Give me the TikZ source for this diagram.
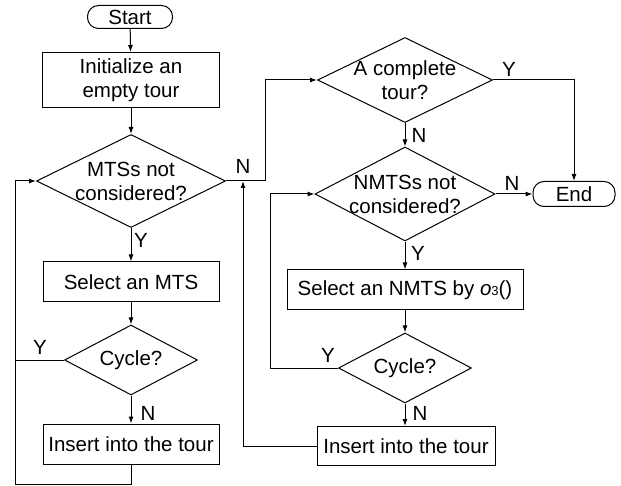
\documentclass[tikz,border=0pt]{standalone}
\usepackage{fontspec}
\setmainfont{Liberation Sans}
\usetikzlibrary{shapes.geometric,arrows.meta}
\begin{document}
\begin{tikzpicture}[x=1pt,y=-1pt,line width=1pt,
    font=\fontsize{20.5}{24}\selectfont,
    box/.style={draw,rectangle,inner sep=0pt,align=center},
    term/.style={draw,rectangle,rounded corners=11pt,inner sep=0pt},
    dia/.style={draw,diamond,inner sep=0pt},
    arr/.style={-{Latex[length=7pt,width=5pt]}},
    lbl/.style={inner sep=0pt}]
  \useasboundingbox (0,0) rectangle (621,486);
  % left column
  \node[term,minimum width=85pt,minimum height=23pt] (start) at (130,17) {Start};
  \node[box,minimum width=177pt,minimum height=55pt] (init) at (131,80) {Initialize an\\empty tour};
  \node[dia,minimum width=189pt,minimum height=93pt,
    label={[align=center]center:MTSs not\\considered?}] (mts) at (131,181) {};
  \node[box,minimum width=176pt,minimum height=40pt] (selm) at (131,282) {Select an MTS};
  \node[dia,minimum width=133pt,minimum height=70pt,
    label=center:Cycle?] (cyc1) at (131,360) {};
  \node[box,minimum width=176pt,minimum height=40pt] (ins1) at (131,444) {Insert into the tour};
  % right column
  \node[dia,minimum width=175pt,minimum height=85pt,
    label={[align=center]center:A complete\\tour?}] (comp) at (405,80) {};
  \node[dia,minimum width=180pt,minimum height=94pt,
    label={[align=center]center:NMTSs not\\considered?}] (nmts) at (405,194) {};
  \node[term,minimum width=82pt,minimum height=25pt] (end) at (574,194) {End};
  \node[box,minimum width=236pt,minimum height=40pt] (seln) at (405,290)
    {Select an NMTS by \textit{o}{\fontsize{13}{13}\selectfont 3}()};
  \node[dia,minimum width=133pt,minimum height=70pt,
    label=center:Cycle?] (cyc2) at (405,368) {};
  \node[box,minimum width=178pt,minimum height=39pt] (ins2) at (406,446) {Insert into the tour};
  % bends
  \coordinate (lp) at (15,484);
  \coordinate (mj) at (243,181);
  % connectors
  \draw[arr] (start) -- (init);
  \draw[arr] (init) -- (mts);
  \draw[arr] (mts) -- (selm);
  \draw[arr] (selm) -- (cyc1);
  \draw[arr] (cyc1) -- (ins1);
  \draw (cyc1.west) -- (cyc1.west -| lp);
  \draw[arr] (ins1.south) |- (lp) |- (mts.west);
  \draw[arr] (mts.east) -- ++(39,0) |- (comp.west);
  \draw[arr] (comp.east) -| (end.north);
  \draw[arr] (comp) -- (nmts);
  \draw[arr] (nmts) -- (end);
  \draw[arr] (nmts) -- (seln);
  \draw[arr] (seln) -- (cyc2);
  \draw[arr] (cyc2.south) -- (cyc2.south |- ins2.north);
  \draw[arr] (cyc2.west) -- ++(-68,0) |- (nmts.west);
  \draw[arr] (ins2.west) -| (mj);
  % labels
  \node[lbl] (y1) at (141,240) {Y};
  \node[lbl] (n1) at (148,413) {N};
  \node[lbl] (y2) at (40,347) {Y};
  \node[lbl] (n2) at (243,166) {N};
  \node[lbl] (y3) at (509,69) {Y};
  \node[lbl] (n3) at (419,135) {N};
  \node[lbl] (n4) at (512,183) {N};
  \node[lbl] (y4) at (418,253) {Y};
  \node[lbl] (y5) at (328,355) {Y};
  \node[lbl] (n5) at (420,413) {N};
\end{tikzpicture}
\end{document}
